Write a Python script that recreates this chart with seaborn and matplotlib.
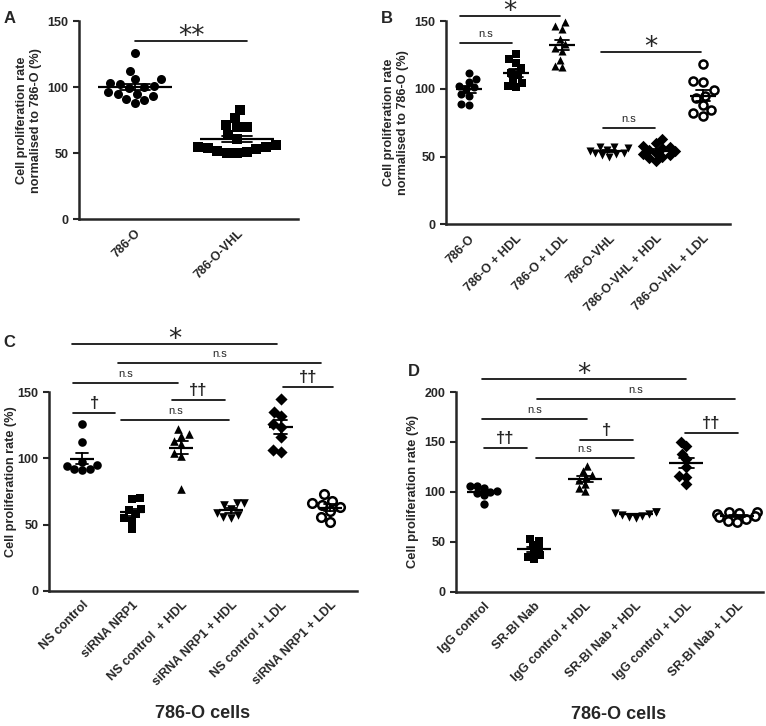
import numpy as np
import pandas as pd
import matplotlib
matplotlib.use("Agg")
import matplotlib.pyplot as plt
from matplotlib.collections import PathCollection
import seaborn as sns

# ---- data ----
a_labels = ["786-O", "786-O-VHL"]
a_786o = [126, 112, 106, 106, 103, 102, 101, 100, 99, 96, 95, 95, 93, 91, 90, 88]
a_vhl = [83, 77, 71, 70, 70, 64, 61, 56, 55, 55, 54, 53, 52, 51, 50, 50]

b_labels = ["786-O", "786-O + HDL", "786-O + LDL", "786-O-VHL",
            "786-O-VHL + HDL", "786-O-VHL + LDL"]
b_786o = [112, 107, 105, 102, 101, 100, 96, 95, 89, 88]
b_786o_hdl = [126, 122, 119, 115, 112, 110, 106, 104, 102, 101]
b_786o_ldl = [149, 146, 144, 137, 133, 130, 128, 121, 117, 116]
b_vhl = [57, 57, 56, 55, 54, 53, 53, 52, 51, 50]
b_vhl_hdl = [63, 60, 58, 57, 56, 55, 54, 53, 52, 51, 50, 49, 47]
b_vhl_ldl = [118, 106, 105, 99, 95, 93, 88, 84, 82, 80]

c_labels = ["NS control", "siRNA NRP1", "NS control  + HDL", "siRNA NRP1 + HDL",
            "NS control + LDL", "siRNA NRP1 + LDL"]
c_ns = [126, 112, 97, 95, 94, 92, 92, 91]
c_si = [70, 69, 62, 61, 58, 55, 53, 47]
c_ns_hdl = [122, 118, 117, 113, 111, 104, 102, 77]
c_si_hdl = [66, 66, 65, 62, 59, 57, 56, 55]
c_ns_ldl = [145, 135, 132, 126, 124, 116, 106, 105]
c_si_ldl = [73, 68, 66, 65, 63, 60, 56, 52]

d_labels = ["IgG control", "SR-BI Nab", "IgG control + HDL", "SR-BI Nab + HDL",
            "IgG control + LDL", "SR-BI Nab + LDL"]
d_igg = [106, 106, 104, 101, 100, 99, 97, 88]
d_nab = [53, 51, 47, 44, 40, 37, 35, 33]
d_igg_hdl = [126, 121, 117, 115, 112, 108, 104, 101]
d_nab_hdl = [80, 80, 79, 78, 77, 76, 75, 74]
d_igg_ldl = [150, 146, 138, 133, 125, 116, 115, 108]
d_nab_ldl = [80, 80, 79, 78, 76, 75, 73, 71, 70]

markers6 = ["o", "s", "^", "v", "D", "open"]

sns.set_style("ticks")
plt.rcParams["font.family"] = ["Liberation Sans", "DejaVu Sans"]
plt.rcParams["font.weight"] = "bold"
plt.rcParams["axes.labelweight"] = "bold"

FS = 9


def draw_panel(ax, labels, groups, markers, msize, layout_size, mean_w, capsize):
    df = pd.DataFrame({
        "group": np.repeat(labels, [len(g) for g in groups]),
        "value": np.concatenate(groups),
    })
    # swarm laid out with a smaller size so the markers overlap a bit, as in GraphPad
    for lab, m in zip(labels, markers):
        sub = df[df["group"] == lab]
        if m == "open":
            sns.swarmplot(data=sub, x="group", y="value", order=labels, marker="o",
                          color="white", edgecolor="black", linewidth=1.8,
                          size=layout_size, ax=ax)
        else:
            sns.swarmplot(data=sub, x="group", y="value", order=labels, marker=m,
                          color="black", linewidth=0, size=layout_size, ax=ax)
    sns.pointplot(data=df, x="group", y="value", order=labels, errorbar="se",
                  capsize=capsize, marker="_", markersize=mean_w, markeredgewidth=1.6,
                  color="black", linestyle="none", err_kws={"linewidth": 1.3}, ax=ax)
    ax.set_xlabel("")
    ax.set_xticks(range(len(labels)))
    ax.set_xticklabels(labels, rotation=45, ha="right", rotation_mode="anchor",
                       fontsize=FS, fontweight="bold")
    ax.tick_params(axis="x", length=0, pad=6)
    ax.tick_params(axis="y", length=4, width=1.5, labelsize=FS)
    for t in ax.get_yticklabels():
        t.set_fontweight("bold")
    for s in ["left", "bottom"]:
        ax.spines[s].set_linewidth(1.8)
    sns.despine(ax=ax)
    ax._draw_size = msize


def sig(ax, x0, x1, y, text, kind):
    top = ax.get_ylim()[1]
    ax.plot([x0, x1], [y, y], color="black", lw=1.2, clip_on=False)
    if kind == "ns":
        ax.text((x0 + x1) / 2, y + top * 0.02, text, ha="center",
                va="bottom", fontsize=8, fontweight="normal")
    elif kind == "star":
        ax.text((x0 + x1) / 2, y - top * 0.045, text, ha="center",
                va="bottom", fontsize=19, fontweight="normal", family="DejaVu Sans")
    else:
        ax.text((x0 + x1) / 2, y + top * 0.01, text, ha="center",
                va="bottom", fontsize=12, fontweight="bold")


fig = plt.figure(figsize=(7.66, 7.26), dpi=100)

# ---- A ----
axA = fig.add_axes([0.103, 0.698, 0.286, 0.273])
draw_panel(axA, a_labels, [a_786o, a_vhl], ["o", "s"], 6.5, 6.8, 53, 0.3)
axA.set_xlim(-0.55, 1.6)
axA.set_ylim(0, 150)
axA.set_yticks([0, 50, 100, 150])
axA.set_ylabel("Cell proliferation rate\nnormalised to 786-O (%)", fontsize=9.1)
sig(axA, 0, 1.1, 135, "**", "star")

# ---- B ----
axB = fig.add_axes([0.582, 0.691, 0.371, 0.280])
draw_panel(axB, b_labels, [b_786o, b_786o_hdl, b_786o_ldl, b_vhl, b_vhl_hdl, b_vhl_ldl],
           markers6, 5.8, 5.2, 19, 0.3)
axB.set_xlim(-0.49, 5.58)
axB.set_ylim(0, 150)
axB.set_yticks([0, 50, 100, 150])
axB.set_ylabel("Cell proliferation rate\nnormalised to 786-O (%)", fontsize=9.1)
sig(axB, -0.19, 1.94, 154, "*", "star")
sig(axB, -0.19, 0.92, 134, "n.s", "ns")
sig(axB, 2.82, 4.96, 127, "*", "star")
sig(axB, 2.86, 3.97, 71, "n.s", "ns")

# ---- C ----
axC = fig.add_axes([0.064, 0.186, 0.402, 0.274])
draw_panel(axC, c_labels, [c_ns, c_si, c_ns_hdl, c_si_hdl, c_ns_ldl, c_si_ldl],
           markers6, 6.2, 5.4, 17, 0.25)
axC.set_xlim(-0.67, 5.54)
axC.set_ylim(0, 150)
axC.set_yticks([0, 50, 100, 150])
axC.set_ylabel("Cell proliferation rate (%)", fontsize=9.1)
axC.yaxis.set_label_coords(-0.105, 0.55)
sig(axC, -0.2, 3.93, 186, "*", "star")
sig(axC, 0.73, 4.82, 172, "n.s", "ns")
sig(axC, -0.18, 1.94, 157, "n.s", "ns")
sig(axC, 4.05, 5.06, 154, "\u2020\u2020", "dag")
sig(axC, 1.81, 2.88, 144, "\u2020\u2020", "dag")
sig(axC, -0.18, 0.67, 134, "\u2020", "dag")
sig(axC, 0.79, 2.96, 129, "n.s", "ns")
axC.text(0.5, -0.615, "786-O cells", transform=axC.transAxes, ha="center",
         va="center", fontsize=13, fontweight="bold")

# ---- D ----
axD = fig.add_axes([0.595, 0.185, 0.401, 0.275])
draw_panel(axD, d_labels, [d_igg, d_nab, d_igg_hdl, d_nab_hdl, d_igg_ldl, d_nab_ldl],
           markers6, 6.0, 4.8, 25, 0.3)
axD.set_xlim(-0.55, 5.51)
axD.set_ylim(0, 200)
axD.set_yticks([0, 50, 100, 150, 200])
axD.set_ylabel("Cell proliferation rate (%)", fontsize=9.3)
sig(axD, -0.04, 3.99, 213, "*", "star")
sig(axD, 1.05, 4.96, 193, "n.s", "ns")
sig(axD, -0.04, 2.04, 173, "n.s", "ns")
sig(axD, 3.97, 5.02, 159, "\u2020\u2020", "dag")
sig(axD, 1.9, 2.94, 152, "\u2020", "dag")
sig(axD, 0.0, 0.85, 144, "\u2020\u2020", "dag")
sig(axD, 1.03, 2.96, 134, "n.s", "ns")
axD.text(0.53, -0.615, "786-O cells", transform=axD.transAxes, ha="center",
         va="center", fontsize=13, fontweight="bold")

# panel letters
fig.text(0.005, 0.975, "A", fontsize=12, fontweight="bold", va="center")
fig.text(0.497, 0.975, "B", fontsize=12, fontweight="bold", va="center")
fig.text(0.005, 0.528, "C", fontsize=12, fontweight="bold", va="center")
fig.text(0.532, 0.488, "D", fontsize=12, fontweight="bold", va="center")

# first draw fixes the swarm layout, then freeze it and enlarge the markers
fig.canvas.draw()
for ax in [axA, axB, axC, axD]:
    for coll in ax.collections:
        coll.set_clip_on(False)
        if isinstance(coll, PathCollection) and "draw" in coll.__dict__:
            del coll.draw
            coll.set_sizes([ax._draw_size ** 2])
    for ln in ax.lines:
        ln.set_clip_on(False)
        ln.set_zorder(5)

fig.savefig("out.png", dpi=100)
